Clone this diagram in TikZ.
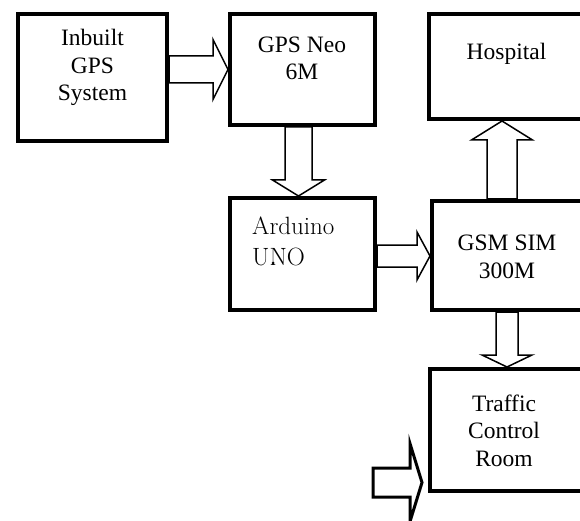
\documentclass[tikz,border=0pt]{standalone}
\usepackage{fontspec}
\newfontfamily\tnr{Liberation Serif}
\usetikzlibrary{calc}

% block arrow: [options]{start}{tip}{half shaft}{half head}{head length}
\newcommand{\blockarrow}[6][]{%
  \path (#3) coordinate (tip) ($(#3)!#6!(#2)$) coordinate (hb);
  \draw[barrow,#1] ($(#2)!#4!90:(#3)$) -- ($(hb)!#4!90:(tip)$) -- ($(hb)!#5!90:(tip)$)
    -- (tip) -- ($(hb)!#5!-90:(tip)$) -- ($(hb)!#4!-90:(tip)$) -- ($(#2)!#4!-90:(#3)$) -- cycle;}

\begin{document}
\begin{tikzpicture}[x=1pt,y=-1pt,
  block/.style={draw,line width=4pt,inner sep=0pt},
  boxtext/.style={font=\tnr\fontsize{23.5}{27.5}\selectfont,align=center,anchor=base,inner sep=0pt},
  ardtext/.style={font=\fontsize{25}{31}\selectfont,align=left,anchor=base west,inner sep=0pt},
  barrow/.style={draw,fill=white,line width=1.5pt,line join=miter}
]
  \useasboundingbox (0,0) rectangle (580,521);
  \clip (0,0) rectangle (580,521);

  % boxes
  \node[block,minimum width=149pt,minimum height=127pt] (inbuilt) at (92.5,77.5) {};
  \node[block,minimum width=145pt,minimum height=111pt] (neo) at (302.5,69.5) {};
  \node[block,minimum width=154pt,minimum height=105pt] (hospital) at (506,66.5) {};
  \node[block,minimum width=145pt,minimum height=112pt] (arduino) at (302.5,254) {};
  \node[block,minimum width=150pt,minimum height=109pt] (gsm) at (507,255.5) {};
  \node[block,minimum width=154pt,minimum height=122pt] (traffic) at (507,430) {};
  \coordinate (tail) at (373,482.5);

  % arrows
  \blockarrow{inbuilt.east |- neo.west}{neo.west}{13.5pt}{30pt}{15pt}
  \blockarrow{$(neo.south)+(-4,0)$}{$(arduino.north)+(-4,0)$}{13.5pt}{26pt}{16pt}
  \blockarrow{$(gsm.north)+(-5,0)$}{$(hospital.south)+(-4,0)$}{15pt}{30.5pt}{19pt}
  \blockarrow{arduino.east |- 0,256}{gsm.west |- 0,256}{11pt}{24pt}{13pt}
  \blockarrow{gsm.south}{traffic.north}{11pt}{25pt}{12pt}
  \blockarrow[line width=3pt]{tail}{$(traffic.west |- tail)+(-6,0)$}{14.5pt}{39pt}{12pt}

  % texts (anchored at the baseline of the last line)
  \node[boxtext] (t1) at (92.5,101) {Inbuilt\\GPS\\System};
  \node[boxtext] (t2) at (302,80) {GPS Neo\\6M};
  \node[boxtext] (t3) at (506.5,60) {Hospital};
  \node[ardtext] (t4) at (252,265) {Arduino\\UNO};
  \node[boxtext] (t5) at (507,278) {GSM SIM\\300M};
  \node[boxtext] (t6) at (504,466) {Traffic\\Control\\Room};
  \fill (273,263) circle (1.5pt);
\end{tikzpicture}
\end{document}
